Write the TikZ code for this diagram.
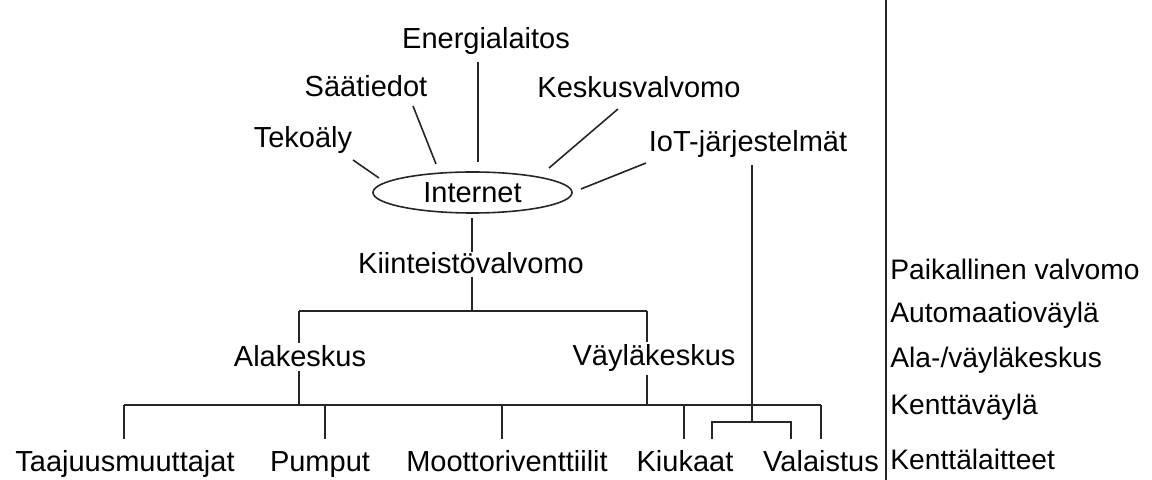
\documentclass[tikz,border=0pt]{standalone}
\usepackage{fontspec}
\setmainfont{Liberation Sans}
\usetikzlibrary{shapes.geometric}
\begin{document}
\begin{tikzpicture}[x=0.5pt,y=-0.5pt,
  lbl/.style={inner sep=1.5pt,anchor=base,font=\fontsize{14.5}{17}\selectfont},
  side/.style={inner sep=0pt,anchor=base west,font=\fontsize{14.1}{17}\selectfont},
  conn/.style={line width=0.8pt,black!85}]
\useasboundingbox (0,0) rectangle (1152,480);
% top nodes
\node[lbl] (ener) at (486,49) {Energialaitos};
\node[lbl] (saat) at (366,97) {Säätiedot};
\node[lbl] (teko) at (303,148) {Tekoäly};
\node[lbl] (kesk) at (639,98) {Keskusvalvomo};
\node[lbl] (iot) at (748,152) {IoT-järjestelmät};
\node[draw,ellipse,line width=0.8pt,black!85,text=black,minimum width=99.5pt,minimum height=20.5pt,inner sep=0pt,
  font=\fontsize{14.5}{17}\selectfont] (net) at (472.5,192.5) {Internet};
\node[lbl] (kiin) at (471,274) {Kiinteistövalvomo};
\node[lbl] (ala) at (300,367) {Alakeskus};
\node[lbl] (vay) at (654,366) {Väyläkeskus};
% bottom devices
\node[lbl] (taaj) at (125,472) {Taajuusmuuttajat};
\node[lbl] (pump) at (320,472) {Pumput};
\node[lbl] (moot) at (507,472) {Moottoriventtiilit};
\node[lbl] (kiuk) at (685,472) {Kiukaat};
\node[lbl] (vala) at (821,472) {Valaistus};
% side labels
\node[side] (s1) at (890,280) {Paikallinen valvomo};
\node[side] (s2) at (890,323) {Automaatioväylä};
\node[side] (s3) at (890,368) {Ala-/väyläkeskus};
\node[side] (s4) at (890,415) {Kenttäväylä};
\node[side] (s5) at (890,470) {Kenttälaitteet};
% connector end points
\coordinate (tekA) at (353,160); \coordinate (tekB) at (379,178);
\coordinate (saaA) at (413,106); \coordinate (saaB) at (436,164);
\coordinate (eneA) at (478,62);  \coordinate (eneB) at (478,162);
\coordinate (kesA) at (618,109); \coordinate (kesB) at (549,168);
\coordinate (iotA) at (646,163); \coordinate (iotB) at (581,189);
\coordinate (netK) at (472,218); \coordinate (kinT) at (472,252);
\coordinate (kinB) at (472,277);
\coordinate (abusL) at (299,311); \coordinate (abusM) at (472,311); \coordinate (abusR) at (647,311);
\coordinate (fbusL) at (124,405); \coordinate (fbusR) at (821,405);
\coordinate (d1) at (124,405); \coordinate (d2) at (325,405); \coordinate (d3) at (502,405);
\coordinate (d4) at (684,405); \coordinate (d5) at (821,405);
\coordinate (dend) at (0,439);
\coordinate (iotV) at (752,165); \coordinate (brM) at (752,422);
\coordinate (brL) at (712,422); \coordinate (brR) at (791,422);
\coordinate (divT) at (886,0); \coordinate (divB) at (886,480);
% connectors
\draw[conn] (tekA) -- (tekB);
\draw[conn] (saaA) -- (saaB);
\draw[conn] (eneA) -- (eneB);
\draw[conn] (kesA) -- (kesB);
\draw[conn] (iotA) -- (iotB);
\draw[conn] (netK) -- (kinT);
\draw[conn] (kinB) -- (abusM);
\draw[conn] (abusL) -- (abusR);
\draw[conn] (abusL) -- (ala.north -| abusL);
\draw[conn] (ala.south -| abusL) -- (fbusL -| abusL);
\draw[conn] (abusR) -- (vay.north -| abusR);
\draw[conn] (vay.south -| abusR) -- (fbusL -| abusR);
\draw[conn] (fbusL) -- (fbusR);
\foreach \d in {d1,d2,d3,d4,d5} \draw[conn] (\d) -- (\d |- dend);
\draw[conn] (iotV) -- (brM);
\draw[conn] (brL |- dend) -- (brL) -- (brR) -- (brR |- dend);
\draw[conn] (divT) -- (divB);
\end{tikzpicture}
\end{document}
